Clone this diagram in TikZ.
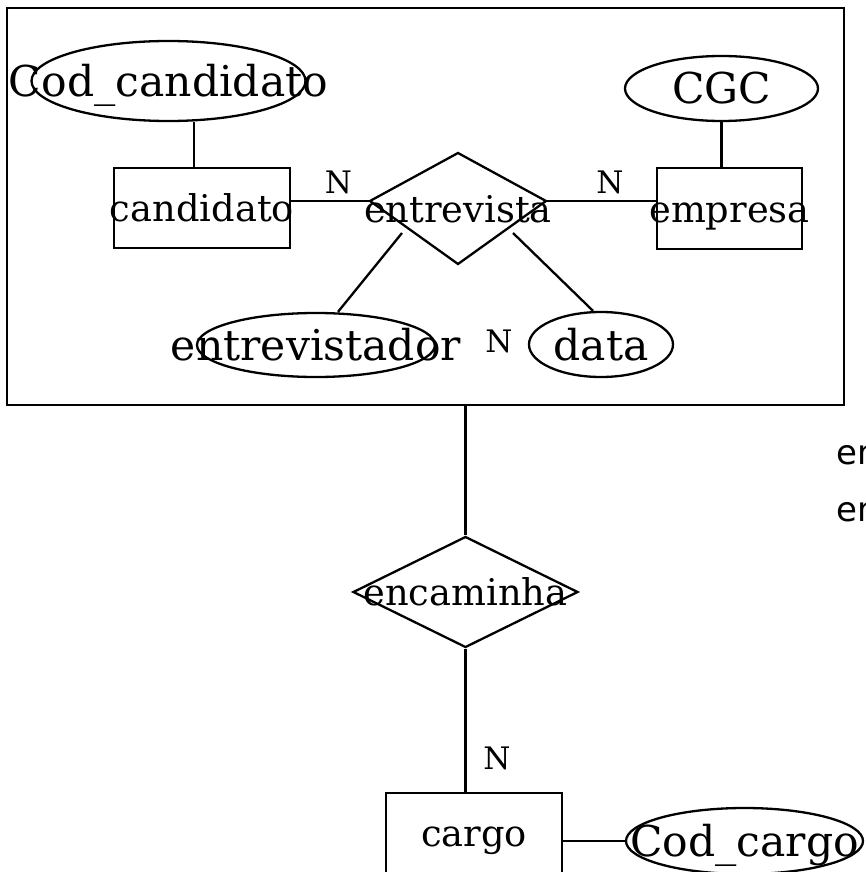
\documentclass[tikz,border=0pt]{standalone}
\usepackage{fontspec}
\setmainfont{DejaVu Serif}
\newfontfamily\sidefont{DejaVu Sans}
\usetikzlibrary{shapes.geometric,calc}

\begin{document}
\begin{tikzpicture}[x=1pt, y=-1pt,
    entity/.style={draw, rectangle, line width=2.3pt, minimum width=176pt, minimum height=80pt, inner sep=0pt, font=\fontsize{36.8}{40}\selectfont, text height=27pt, text depth=0pt},
    attrib/.style={draw, ellipse, line width=2.3pt, inner sep=0pt, font=\fontsize{42.5}{46}\selectfont, text height=31pt, text depth=0pt},
    relation/.style={draw, diamond, line width=2.3pt, inner sep=0pt, font=\fontsize{36.8}{40}\selectfont, text height=27pt, text depth=0pt},
    card/.style={anchor=base, inner sep=0pt, font=\fontsize{31}{34}\selectfont},
    sidetext/.style={anchor=base west, inner sep=0pt, font=\sidefont\fontsize{34}{38}\selectfont},
    link/.style={line width=2.3pt}
]
    \useasboundingbox (0,0) rectangle (865,872);

    % Aggregation box
    \node[draw, line width=2.3pt, minimum width=837pt, minimum height=397pt, inner sep=0pt] (agg) at (425.5,206.5) {};

    % Entities
    \node[entity] (candidato) at (202,208) {\makebox[0pt]{candidato}};
    \node[entity, minimum width=145pt, minimum height=81pt] (empresa) at (729.5,208.5) {\makebox[0pt]{empresa}};
    \node[entity] (cargo) at (474,833) {\makebox[0pt]{cargo}};

    % Attributes
    \node[attrib, minimum width=274pt, minimum height=80pt] (codcand) at (168.5,81) {\makebox[0pt]{Cod\_candidato}};
    \node[attrib, minimum width=193pt, minimum height=65pt] (cgc) at (721.5,88.5) {\makebox[0pt]{CGC}};
    \node[attrib, minimum width=238pt, minimum height=64pt] (entrevistador) at (316,345) {\makebox[0pt]{entrevistador}};
    \node[attrib, minimum width=144pt, minimum height=65pt] (data) at (601,344.5) {\makebox[0pt]{data}};
    \node[attrib, minimum width=237pt, minimum height=66pt] (codcargo) at (744.5,841) {\makebox[0pt]{Cod\_cargo}};

    % Relationships
    \coordinate (ent-w) at (370,201);
    \coordinate (ent-n) at (458,153);
    \coordinate (ent-e) at (546,201);
    \coordinate (ent-s) at (458,264);
    \draw[link] (ent-w) -- (ent-n) -- (ent-e) -- (ent-s) -- cycle;
    \node[relation, draw=none] (entrevista) at (458,208.5) {\makebox[0pt]{entrevista}};
    \node[relation, minimum width=225pt, minimum height=111pt] (encaminha) at (465.5,592) {\makebox[0pt]{encaminha}};

    % Links
    \coordinate (candlink) at (194,0);
    \coordinate (ent-sw) at (402,233);
    \coordinate (ent-se) at (513,233);
    \draw[link] (codcand.south -| candlink) -- (candidato.north -| candlink);
    \draw[link] (cgc.south) -- (cgc.south |- empresa.north);
    \draw[link] (candidato.east |- ent-w) -- (ent-w);
    \draw[link] (ent-e) -- (empresa.west |- ent-e);
    \draw[link] (ent-sw) -- ($(entrevistador.north)+(22,0)$);
    \draw[link] (ent-se) -- ($(data.north)+(-8,0)$);
    \draw[link] (agg.south -| encaminha) -- (encaminha.north);
    \draw[link] (encaminha.south) -- (encaminha.south |- cargo.north);
    \draw[link] (cargo.east |- codcargo.west) -- (codcargo.west);

    % Cardinalities
    \node[card] (n-cand) at (338.5,193) {N};
    \node[card] (n-emp) at (610,193) {N};
    \node[card] (n-data) at (499,352) {N};
    \node[card] (n-cargo) at (497,769) {N};

    % Side text
    \node[sidetext] (side-a) at (836,464) {en};
    \node[sidetext] (side-b) at (836,521.5) {en};
\end{tikzpicture}
\end{document}
